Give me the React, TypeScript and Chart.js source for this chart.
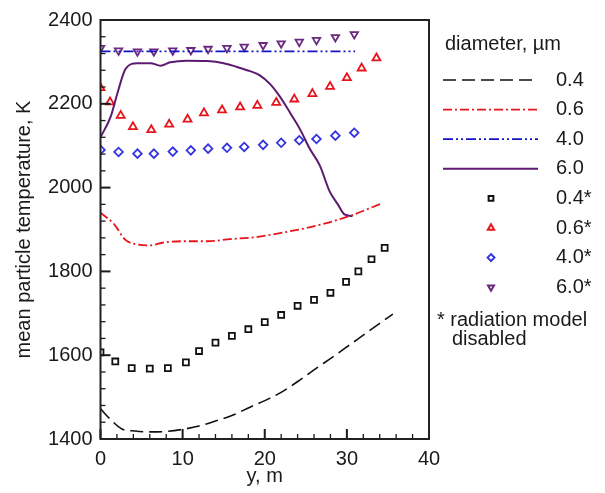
import React, { useEffect, useRef } from 'react';
import { Chart, registerables } from 'chart.js';
import { drawPoint } from 'chart.js/helpers';

Chart.register(...registerables);

// ---------- data ----------
const xTicks = [0, 10, 20, 30, 40];
const yTicks = [1400, 1600, 1800, 2000, 2200, 2400];
const xMinorStep = 2;
const yMinorStep = 40;

// lines (radiation model on)
const line04Y = [0, 1.3, 2.6, 4.2, 6, 8, 10, 12, 14, 16, 18.2, 20.6, 22.3, 24.3, 26.3, 28.3, 30.3, 32.5, 35.6];
const line04T = [1472, 1445, 1424, 1419, 1417, 1418, 1423, 1431, 1443, 1456, 1476, 1497, 1515, 1541, 1569, 1596, 1624, 1655, 1698];

const line06Y = [0, 1.65, 3.0, 4.5, 5.9, 7.7, 10.1, 13, 15.8, 19, 22.3, 26.3, 30.3, 34.2];
const line06T = [1940, 1913, 1876, 1864, 1862, 1869, 1872, 1872, 1877, 1882, 1893, 1909, 1932, 1962];

const line40Y = [0, 31];
const line40T = [2325, 2325];

const line60Y = [0, 1.25, 2.06, 3.07, 4.5, 6.1, 7.3, 8.5, 10.5, 13, 15, 16.6, 18.2, 19.4, 20.6, 21.85, 23.1, 24.3, 25.5, 26.7, 27.9, 28.9, 29.7, 30.7];
const line60T = [2120, 2170, 2225, 2284, 2297, 2297, 2291, 2299, 2303, 2302, 2297, 2288, 2278, 2268, 2248, 2217, 2178, 2139, 2092, 2053, 1991, 1960, 1936, 1932];

// markers (radiation model disabled)
const pts04Y = [0, 1.8, 3.8, 6.0, 8.2, 10.4, 12, 14, 16, 18, 20, 22, 24, 26, 28, 29.9, 31.4, 33, 34.6];
const pts04T = [1607, 1585, 1569, 1568, 1569, 1583, 1610, 1630, 1646, 1662, 1679, 1696, 1718, 1732, 1749, 1775, 1800, 1829, 1856];

const pts06Y = [0, 1.16, 2.46, 3.95, 6.18, 8.36, 10.6, 12.6, 14.8, 17.0, 19.1, 21.4, 23.6, 25.8, 27.95, 30.0, 31.8, 33.6];
const pts06T = [2238, 2204, 2172, 2145, 2138, 2151, 2163, 2178, 2185, 2192, 2196, 2203, 2211, 2224, 2241, 2262, 2285, 2309];

const pts40Y = [0, 2.2, 4.5, 6.5, 8.8, 11.0, 13.1, 15.4, 17.5, 19.8, 22.0, 24.2, 26.3, 28.6, 30.9];
const pts40T = [2090, 2085, 2081, 2081, 2086, 2089, 2093, 2095, 2097, 2102, 2107, 2113, 2116, 2124, 2131];

const pts60Y = [0, 2.2, 4.5, 6.5, 8.8, 11.0, 13.1, 15.4, 17.5, 19.8, 22.0, 24.2, 26.3, 28.6, 30.9];
const pts60T = [2333, 2327, 2325, 2325, 2327, 2328, 2331, 2333, 2336, 2340, 2344, 2348, 2352, 2359, 2366];

const legendTitle = 'diameter, \u00B5m';
const noteLines = ['* radiation model', 'disabled'];

// ---------- helpers ----------
const zip = (xs: number[], ys: number[]) => xs.map((x, i) => ({ x, y: ys[i] }));
const FONT = "'Liberation Sans', Arial, Helvetica, sans-serif";
const TEXT = '#1a1a1a';

const frameAndTicks = {
  id: 'frameAndTicks',
  afterDraw(chart: any) {
    const ctx = chart.ctx;
    const a = chart.chartArea;
    const xs = chart.scales.x;
    const ys = chart.scales.y;
    ctx.save();
    ctx.fillStyle = '#1a1a1a';
    for (let v = xs.min; v <= xs.max + 1e-9; v += xMinorStep) {
      const px = xs.getPixelForValue(v);
      const major = xTicks.includes(v);
      const w = major ? 2 : 1.3;
      const len = major ? 10 : 5;
      ctx.fillRect(px - w / 2, a.bottom - len, w, len);
    }
    for (let v = ys.min; v <= ys.max + 1e-9; v += yMinorStep) {
      const py = ys.getPixelForValue(v);
      const major = yTicks.includes(v);
      const w = major ? 2 : 1.3;
      const len = major ? 10 : 5;
      ctx.fillRect(a.left, py - w / 2, len, w);
    }
    ctx.lineWidth = 2;
    ctx.strokeStyle = '#222222';
    ctx.strokeRect(a.left, a.top, a.right - a.left, a.bottom - a.top);
    ctx.restore();
  },
};

const customLegend = {
  id: 'customLegend',
  afterDraw(chart: any) {
    const { ctx } = chart;
    ctx.save();
    ctx.font = `20px ${FONT}`;
    ctx.fillStyle = TEXT;
    ctx.textBaseline = 'middle';
    ctx.textAlign = 'left';
    ctx.fillText(legendTitle, 445, 44);
    chart.data.datasets.forEach((ds: any, i: number) => {
      const y = 80 + i * 29.6;
      if (ds.showLine) {
        ctx.beginPath();
        ctx.setLineDash(ds.borderDash || []);
        ctx.strokeStyle = ds.borderColor;
        ctx.lineWidth = ds.borderWidth;
        ctx.moveTo(443, y);
        ctx.lineTo(538, y);
        ctx.stroke();
        ctx.setLineDash([]);
      } else {
        ctx.strokeStyle = ds.pointBorderColor;
        ctx.fillStyle = 'rgba(0,0,0,0)';
        drawPoint(ctx, {
          pointStyle: ds.pointStyle,
          rotation: ds.pointRotation || 0,
          radius: ds.pointRadius * 0.8,
          borderWidth: ds.pointBorderWidth,
        }, 491, y);
      }
      ctx.fillStyle = TEXT;
      ctx.fillText(ds.label, 556, y);
    });
    ctx.fillText(noteLines[0], 437, 320);
    ctx.fillText(noteLines[1], 452, 339);
    ctx.restore();
  },
};

export default function App() {
  const ref = useRef<HTMLCanvasElement | null>(null);

  useEffect(() => {
    if (!ref.current) return;
    const lineDs = (label: string, xs: number[], ys: number[], color: string, dash: number[], width: number, tension = 0.35) => ({
      label,
      data: zip(xs, ys),
      showLine: true,
      borderColor: color,
      borderWidth: width,
      borderDash: dash,
      pointRadius: 0,
      tension,
      cubicInterpolationMode: 'monotone',
      fill: false,
    });
    const ptDs = (label: string, xs: number[], ys: number[], color: string, style: string, radius: number, rotation = 0) => ({
      label,
      data: zip(xs, ys),
      showLine: false,
      pointStyle: style,
      pointRadius: radius,
      pointRotation: rotation,
      pointBorderColor: color,
      pointBackgroundColor: 'rgba(0,0,0,0)',
      pointBorderWidth: 1.8,
      borderColor: color,
      backgroundColor: 'rgba(0,0,0,0)',
    });

    const chart = new Chart(ref.current, {
      type: 'scatter',
      data: {
        datasets: [
          lineDs('0.4', line04Y, line04T, '#111111', [13, 6], 1.6),
          lineDs('0.6', line06Y, line06T, '#e8141c', [9, 3, 2, 3], 1.8),
          lineDs('4.0', line40Y, line40T, '#1414c8', [10, 3, 2, 3, 2, 3], 1.8),
          lineDs('6.0', line60Y, line60T, '#5c1a70', [], 2),
          ptDs('0.4*', pts04Y, pts04T, '#111111', 'rect', 4.2),
          ptDs('0.6*', pts06Y, pts06T, '#e8141c', 'triangle', 4.6),
          ptDs('4.0*', pts40Y, pts40T, '#3434e0', 'rectRot', 4.3),
          ptDs('6.0*', pts60Y, pts60T, '#6a2a80', 'triangle', 4.3, 180),
        ] as any,
      },
      options: {
        animation: false,
        responsive: false,
        devicePixelRatio: 1,
        layout: { padding: { top: 12, right: 176, bottom: 0, left: 0 } },
        plugins: { legend: { display: false }, tooltip: { enabled: false } },
        scales: {
          x: {
            type: 'linear',
            min: 0,
            max: 40,
            afterBuildTicks: (s: any) => { s.ticks = xTicks.map((v) => ({ value: v })); },
            afterFit: (s: any) => { s.height = 54; },
            grid: { display: false, drawTicks: false },
            border: { display: false },
            ticks: { color: TEXT, font: { family: FONT, size: 20 }, padding: 8, maxRotation: 0, callback: (v: any) => String(v) },
            title: { display: true, text: 'y, m', color: TEXT, font: { family: FONT, size: 20 }, padding: { top: 0, bottom: 5 } },
          },
          y: {
            type: 'linear',
            min: 1400,
            max: 2400,
            afterBuildTicks: (s: any) => { s.ticks = yTicks.map((v) => ({ value: v })); },
            afterFit: (s: any) => { s.width = 100.5; },
            grid: { display: false, drawTicks: false },
            border: { display: false },
            ticks: { color: TEXT, font: { family: FONT, size: 20 }, padding: 8, callback: (v: any) => String(v) },
            title: { display: true, text: 'mean particle temperature, K', color: TEXT, font: { family: FONT, size: 20 }, padding: { top: 12, bottom: 0 } },
          },
        },
      } as any,
      plugins: [frameAndTicks, customLegend],
    });
    return () => chart.destroy();
  }, []);

  return (
    <div style={{ position: 'absolute', left: 0, top: 0, width: 605, height: 493, background: '#fff' }}>
      <canvas ref={ref} width={605} height={493} style={{ width: 605, height: 493, display: 'block' }} />
    </div>
  );
}
